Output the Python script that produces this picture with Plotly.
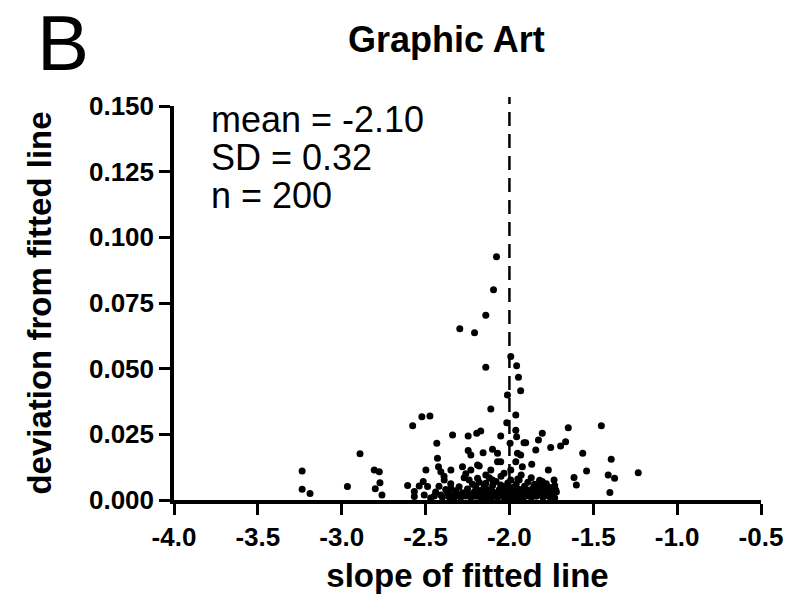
import plotly.graph_objects as go

# slope of the fitted line for each of the 200 images
slope = [
    -2.077, -2.095, -2.141, -2.296, -2.208, -1.992, -2.141, -1.957, -1.946, -1.933,
    -2.012, -2.111, -2.577, -2.522, -2.474, -1.962, -2.016, -2.339, -2.246, -2.195,
    -2.171, -2.052, -1.962, -1.957, -1.913, -2.433, -2.891, -2.246, -2.230, -2.157,
    -2.101, -2.071, -1.996, -1.952, -3.236, -3.236, -3.189, -2.966, -2.806, -2.776,
    -2.772, -2.800, -2.760, -2.607, -2.567, -2.567, -2.538, -2.514, -2.498, -2.488,
    -2.508, -2.429, -2.423, -2.409, -2.349, -2.389, -2.349, -2.448, -2.409, -2.369,
    -2.329, -2.280, -2.230, -2.180, -2.141, -2.111, -2.071, -2.032, -1.992, -1.962,
    -1.923, -2.240, -2.190, -2.141, -2.101, -2.052, -1.992, -1.942, -1.649, -1.452,
    -1.804, -1.827, -1.903, -1.665, -1.695, -1.754, -1.843, -1.933, -1.563, -1.393,
    -2.190, -2.052, -1.867, -1.768, -1.540, -1.411, -1.373, -1.232, -1.615, -1.601,
    -1.401, -1.734, -1.724, -1.804,
    -2.44, -2.42, -2.40, -2.38, -2.36, -2.35, -2.33, -2.32, -2.31, -2.30,
    -2.29, -2.28, -2.27, -2.26, -2.25, -2.24, -2.23, -2.22, -2.21, -2.20,
    -2.20, -2.19, -2.18, -2.17, -2.17, -2.16, -2.15, -2.15, -2.14, -2.13,
    -2.12, -2.12, -2.11, -2.10, -2.10, -2.09, -2.08, -2.08, -2.07, -2.06,
    -2.05, -2.05, -2.04, -2.03, -2.03, -2.02, -2.01, -2.00, -2.00, -1.99,
    -1.98, -1.98, -1.97, -1.96, -1.96, -1.95, -1.94, -1.93, -1.93, -1.92,
    -1.91, -1.91, -1.90, -1.89, -1.89, -1.88, -1.87, -1.87, -1.86, -1.85,
    -1.85, -1.84, -1.83, -1.82, -1.82, -1.81, -1.80, -1.80, -1.79, -1.78,
    -1.78, -1.77, -1.76, -1.76, -1.75, -1.74, -1.73, -1.73, -1.72, -2.47,
    -2.39, -2.26, -2.02, -1.95, -2.13, -1.84,
]

# deviation of the data from the fitted line, same order as slope
deviation = [
    0.0926, 0.0800, 0.0703, 0.0652, 0.0637, 0.0546, 0.0505, 0.0511, 0.0467, 0.0416,
    0.0400, 0.0346, 0.0283, 0.0317, 0.0320, 0.0324, 0.0294, 0.0247, 0.0244, 0.0254,
    0.0263, 0.0244, 0.0266, 0.0241, 0.0218, 0.0216, 0.0176, 0.0188, 0.0171, 0.0180,
    0.0193, 0.0178, 0.0216, 0.0178, 0.0110, 0.0041, 0.0025, 0.0051, 0.0114, 0.0108,
    0.0066, 0.0043, 0.0019, 0.0055, 0.0032, 0.0013, 0.0053, 0.0070, 0.0114, 0.0051,
    0.0019, 0.0159, 0.0127, 0.0108, 0.0114, 0.0076, 0.0045, 0.0015, 0.0019, 0.0028,
    0.0025, 0.0127, 0.0114, 0.0129, 0.0095, 0.0114, 0.0146, 0.0102, 0.0114, 0.0146,
    0.0127, 0.0076, 0.0083, 0.0064, 0.0076, 0.0057, 0.0076, 0.0076, 0.0275, 0.0283,
    0.0254, 0.0228, 0.0218, 0.0222, 0.0206, 0.0200, 0.0190, 0.0171, 0.0178, 0.0155,
    0.0133, 0.0146, 0.0136, 0.0114, 0.0110, 0.0095, 0.0083, 0.0104, 0.0086, 0.0057,
    0.0029, 0.0076, 0.0038, 0.0070,
    0.0030, 0.0052, 0.0010, 0.0040, 0.0012, 0.0062, 0.0008, 0.0035, 0.0018, 0.0050,
    0.0010, 0.0028, 0.0085, 0.0015, 0.0042, 0.0022, 0.0010, 0.0060, 0.0030, 0.0014,
    0.0048, 0.0022, 0.0068, 0.0008, 0.0036, 0.0018, 0.0052, 0.0028, 0.0012, 0.0040,
    0.0020, 0.0085, 0.0006, 0.0032, 0.0055, 0.0015, 0.0024, 0.0070, 0.0010, 0.0040,
    0.0018, 0.0090, 0.0030, 0.0008, 0.0050, 0.0020, 0.0065, 0.0012, 0.0035, 0.0025,
    0.0048, 0.0008, 0.0018, 0.0060, 0.0030, 0.0012, 0.0040, 0.0022, 0.0095, 0.0006,
    0.0052, 0.0030, 0.0015, 0.0068, 0.0038, 0.0022, 0.0010, 0.0085, 0.0045, 0.0028,
    0.0060, 0.0014, 0.0036, 0.0075, 0.0020, 0.0050, 0.0010, 0.0030, 0.0042, 0.0018,
    0.0062, 0.0026, 0.0048, 0.0012, 0.0035, 0.0020, 0.0055, 0.0008, 0.0030, 0.0008,
    0.0090, 0.0100, 0.0045, 0.0080, 0.0015, 0.0055,
]

x_ticks = [-4.0, -3.5, -3.0, -2.5, -2.0, -1.5, -1.0, -0.5]
y_ticks = [0.000, 0.025, 0.050, 0.075, 0.100, 0.125, 0.150]
reference_slope = -2.0
stats_lines = ["mean = -2.10", "SD = 0.32", "n = 200"]

FONT = "Liberation Sans, Arial, sans-serif"

fig = go.Figure()

fig.add_trace(go.Scatter(
    x=slope, y=deviation, mode="markers",
    marker=dict(color="black", size=7, line=dict(width=0)),
    cliponaxis=False, showlegend=False, hoverinfo="x+y",
))

# vertical dashed reference line, reaching slightly above the top tick
fig.add_shape(type="line", xref="x", yref="paper",
              x0=reference_slope, x1=reference_slope, y0=0, y1=1.023,
              line=dict(color="black", width=2.5, dash="14px,8px"))

axis_common = dict(
    showline=True, linecolor="black", linewidth=3.5, mirror=False,
    ticks="outside", ticklen=11, tickwidth=2.5, tickcolor="black",
    showgrid=False, zeroline=False,
    tickfont=dict(family=FONT, size=26, color="black", weight="bold"),
)

fig.update_xaxes(
    range=[min(x_ticks), max(x_ticks)], tickvals=x_ticks,
    ticktext=[f"{v:.1f}" for v in x_ticks],
    title=dict(text="slope of fitted line", standoff=14,
               font=dict(family=FONT, size=33, color="black", weight="bold")),
    **axis_common,
)
fig.update_yaxes(
    range=[min(y_ticks), max(y_ticks)], tickvals=y_ticks,
    ticktext=[f"{v:.3f}" for v in y_ticks],
    title=dict(text="deviation from fitted line", standoff=28,
               font=dict(family=FONT, size=33, color="black", weight="bold")),
    **axis_common,
)

# summary statistics
for i, line in enumerate(stats_lines):
    fig.add_annotation(
        xref="paper", yref="paper", x=0.060, y=0.966 - i * 0.097,
        xanchor="left", yanchor="middle", showarrow=False, text=line,
        font=dict(family=FONT, size=36, color="black"),
    )

fig.add_annotation(
    xref="paper", yref="paper", x=0.464, y=1.0 + 67 / 394,
    xanchor="center", yanchor="middle", showarrow=False, text="<b>Graphic Art</b>",
    font=dict(family=FONT, size=36, color="black"),
)
fig.add_annotation(
    xref="paper", yref="paper", x=-0.2365, y=457 / 394,
    xanchor="left", yanchor="middle", showarrow=False, text="B",
    font=dict(family=FONT, size=78, color="black"),
)

fig.update_layout(
    width=795, height=604,
    margin=dict(l=174, r=29, t=106, b=104),
    paper_bgcolor="white", plot_bgcolor="white",
)

fig.write_html("out.html")
